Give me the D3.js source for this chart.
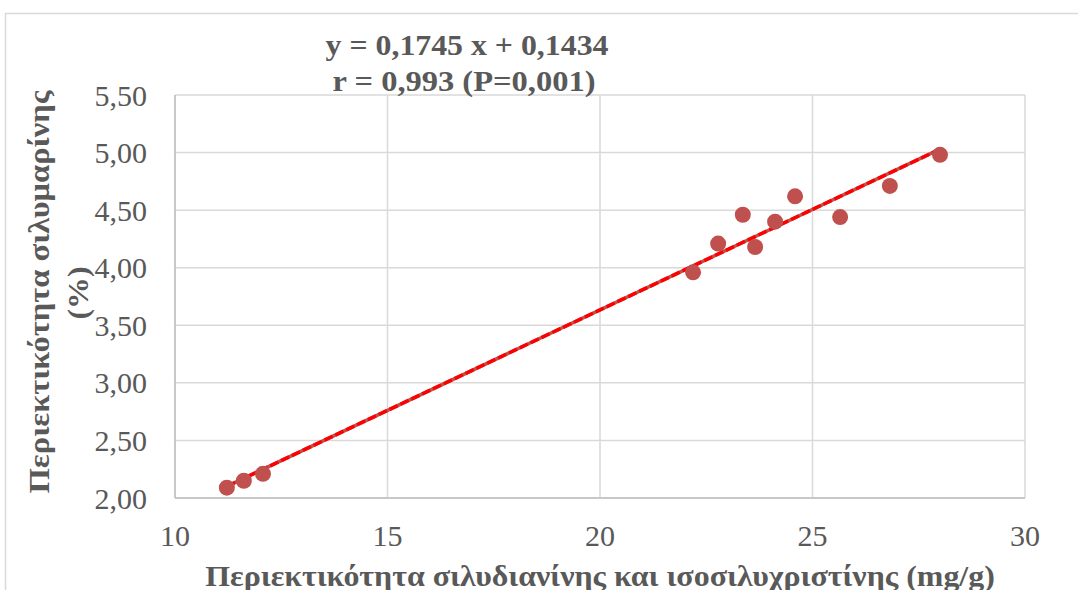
<!DOCTYPE html>
<html>
<head>
<meta charset="utf-8">
<script src="https://cdn.jsdelivr.net/npm/d3@7"></script>
<style>
  html, body { margin: 0; padding: 0; background: #fff; }
  svg { display: block; }
  text { font-family: "Liberation Serif", "Times New Roman", serif; }
</style>
</head>
<body>
<svg id="chart" width="1078" height="590"></svg>
<script>
// Silydianin + isosilychristin content (mg/g) vs silymarin content (%)
const xValues = [11.22, 11.62, 12.07, 22.19, 22.78, 23.36, 23.65, 24.12, 24.59, 25.65, 26.82, 28.0];
const yValues = [2.09, 2.15, 2.21, 3.96, 4.21, 4.46, 4.18, 4.40, 4.62, 4.44, 4.71, 4.98];
const xTicks = [10, 15, 20, 25, 30];
const yTicks = [2.0, 2.5, 3.0, 3.5, 4.0, 4.5, 5.0, 5.5];
const slope = 0.1745, intercept = 0.1434;
const equationLines = ["y = 0,1745 x + 0,1434", "r = 0,993 (P=0,001)"];
const xTitle = "Περιεκτικότητα σιλυδιανίνης και ισοσιλυχριστίνης (mg/g)";
const yTitleLines = ["Περιεκτικότητα σιλυμαρίνης", "(%)"];

const svg = d3.select("#chart");
const W = 1078, H = 590;
const plot = { left: 175, right: 1025, top: 95, bottom: 498 };
const textColor = "#595959";
const gridColor = "#d9d9d9";

// outer chart frame
svg.append("rect").attr("x", 5.5).attr("y", 13.5).attr("width", W).attr("height", H)
  .attr("fill", "#fff").attr("stroke", gridColor).attr("stroke-width", 1.5);

const x = d3.scaleLinear().domain([10, 30]).range([plot.left, plot.right]);
const y = d3.scaleLinear().domain([2, 5.5]).range([plot.bottom, plot.top]);

const fmt = d3.format(".2f");
const comma = s => s.replace(".", ",");

// text helper; optional width stretches the glyphs horizontally to a set length
function label(g, str, px, py, opts) {
  const t = g.append("text")
    .attr("text-anchor", opts.anchor || "middle")
    .attr("dominant-baseline", "central")
    .attr("font-size", opts.size)
    .attr("font-weight", opts.bold ? "bold" : "normal")
    .attr("fill", opts.color || textColor)
    .text(str);
  let s = 1;
  if (opts.width) s = opts.width / t.node().getComputedTextLength();
  t.attr("transform", `translate(${px},${py})` + (opts.rotate ? ` rotate(${opts.rotate})` : "") + ` scale(${s},1)`);
  return t;
}

// gridlines
const grid = svg.append("g");
grid.selectAll("line.v").data(xTicks).join("line")
  .attr("x1", d => x(d)).attr("x2", d => x(d))
  .attr("y1", plot.top).attr("y2", plot.bottom)
  .attr("stroke", gridColor).attr("stroke-width", 1.5);
grid.selectAll("line.h").data(yTicks).join("line")
  .attr("x1", plot.left).attr("x2", plot.right)
  .attr("y1", d => y(d)).attr("y2", d => y(d))
  .attr("stroke", gridColor).attr("stroke-width", 1.5);

// axis lines
svg.append("line").attr("x1", plot.left).attr("x2", plot.left)
  .attr("y1", plot.top).attr("y2", plot.bottom).attr("stroke", "#bfbfbf").attr("stroke-width", 1.5);
svg.append("line").attr("x1", plot.left).attr("x2", plot.right)
  .attr("y1", plot.bottom).attr("y2", plot.bottom).attr("stroke", "#bfbfbf").attr("stroke-width", 1.5);

// tick labels
const tl = svg.append("g");
xTicks.forEach(t => label(tl, String(t), x(t), 535, { size: 30 }));
yTicks.forEach(t => label(tl, comma(fmt(t)), 147, y(t), { size: 30, anchor: "end" }));

// trendline
const xs = d3.extent(xValues);
const lineData = xs.map(v => [x(v), y(slope * v + intercept)]);
svg.append("path").attr("d", d3.line()(lineData))
  .attr("stroke", "#c0504d").attr("stroke-width", 3.5).attr("fill", "none");
svg.append("path").attr("d", d3.line()(lineData))
  .attr("stroke", "#ff0000").attr("stroke-width", 3.5).attr("fill", "none")
  .attr("stroke-dasharray", "9,3");

// points
svg.append("g").selectAll("circle").data(xValues).join("circle")
  .attr("cx", d => x(d)).attr("cy", (d, i) => y(yValues[i]))
  .attr("r", 8).attr("fill", "#c0504d");

// regression text
label(svg, equationLines[0], 467, 45, { size: 30, bold: true, width: 283 });
label(svg, equationLines[1], 464, 81, { size: 30, bold: true, width: 263 });

// axis titles
label(svg, xTitle, 600, 576, { size: 29, bold: true, width: 790 });
label(svg, yTitleLines[0], 40, 292, { size: 29, bold: true, rotate: -90, width: 403 });
label(svg, yTitleLines[1], 78, 293, { size: 29, bold: true, rotate: -90, width: 53 });
</script>
</body>
</html>
